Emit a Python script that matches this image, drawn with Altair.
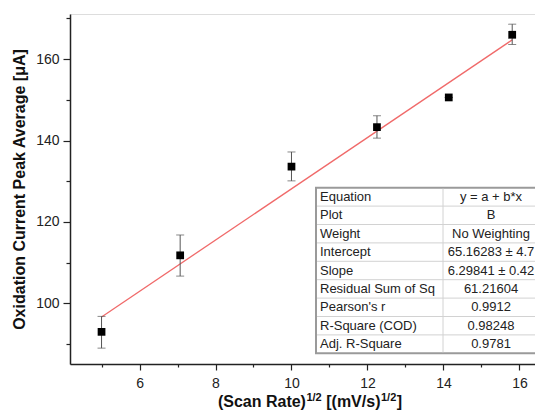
import altair as alt
import pandas as pd

# ---- data ----
x_vals = [5.0, 7.07, 10.0, 12.25, 14.14, 15.81]
y_vals = [93.0, 111.8, 133.6, 143.3, 150.6, 166.0]
y_low = [89.0, 106.7, 130.1, 140.6, 150.6, 163.6]
y_high = [96.8, 116.8, 137.2, 146.1, 150.6, 168.6]

intercept = 65.16283
slope = 6.29841
fit_x = [5.0, 15.81]

table_labels = ["Equation", "Plot", "Weight", "Intercept", "Slope",
                "Residual Sum of Sq", "Pearson's r", "R-Square (COD)", "Adj. R-Square"]
table_values = ["y = a + b*x", "B", "No Weighting", "65.16283 \u00b1 4.7",
                "6.29841 \u00b1 0.42", "61.21604", "0.9912", "0.98248", "0.9781"]

x_ticks = list(range(5, 17))
y_ticks = list(range(90, 171, 10))

# ---- layout ----
W, H = 465, 350
FONT = "Liberation Sans"
x_dom = [4.17, 16.41]
y_dom = [85.1, 171.1]

pts = pd.DataFrame({"x": x_vals, "y": y_vals, "lo": y_low, "hi": y_high})

xs = alt.Scale(domain=x_dom, nice=False, zero=False)
ys = alt.Scale(domain=y_dom, nice=False, zero=False)

x_axis = alt.Axis(values=x_ticks, title=None,
                  labelExpr="datum.value % 2 == 0 ? datum.label : ''",
                  tickSize={"condition": {"test": "datum.value % 2 == 0", "value": 6}, "value": 3},
                  labelFont=FONT, labelFontSize=14, labelColor="#222", labelPadding=6,
                  domainColor="#222", domainWidth=1.5, tickColor="#222", tickWidth=1.2,
                  grid=False, labelFlush=False)
y_axis = alt.Axis(values=y_ticks, title="Oxidation Current Peak Average [\u03bcA]",
                  labelExpr="datum.value % 20 == 0 ? datum.label : ''",
                  tickSize={"condition": {"test": "datum.value % 20 == 0", "value": 7}, "value": 4},
                  labelFont=FONT, labelFontSize=14, labelColor="#222", labelPadding=4,
                  titleFont=FONT, titleFontSize=16, titleFontWeight="bold", titleColor="#111",
                  titlePadding=8,
                  domainColor="#222", domainWidth=1.5, tickColor="#222", tickWidth=1.2,
                  grid=False, labelFlush=False)

# regression line from the reported intercept and slope
fit = alt.Chart(pd.DataFrame({"x": fit_x})).transform_calculate(
    y=f"{intercept} + {slope} * datum.x"
).mark_line(color="#f06a6a", strokeWidth=1.3).encode(
    x=alt.X("x:Q", scale=xs, axis=x_axis),
    y=alt.Y("y:Q", scale=ys, axis=y_axis),
)

err = alt.Chart(pts).mark_rule(color="#555", strokeWidth=1).encode(
    x="x:Q", y="lo:Q", y2="hi:Q")
cap_lo = alt.Chart(pts).mark_tick(color="#555", orient="horizontal", size=8, thickness=1).encode(
    x="x:Q", y="lo:Q")
cap_hi = alt.Chart(pts).mark_tick(color="#555", orient="horizontal", size=8, thickness=1).encode(
    x="x:Q", y="hi:Q")
sq = alt.Chart(pts).mark_square(color="black", size=60, opacity=1).encode(x="x:Q", y="y:Q")

# ---- fit-result table (annotation, pixel placement) ----
T_L, T_R, T_T, ROW = 246, 485, 173.7, 18.4
n = len(table_labels)
T_B = T_T + ROW * n
COL = 373
tab = pd.DataFrame({"i": list(range(n)), "lab": table_labels, "val": table_values})

box = alt.Chart(pd.DataFrame({"a": [0]})).mark_rect(
    fill="white", stroke="#9a9a9a", strokeWidth=2).encode(
    x=alt.value(T_L), x2=alt.value(T_R), y=alt.value(T_T), y2=alt.value(T_B))
row_lines = alt.Chart(pd.DataFrame({"i": list(range(1, n))})).transform_calculate(
    py=f"{T_T} + {ROW} * datum.i").mark_rule(color="#d2d2d2", strokeWidth=1).encode(
    y=alt.Y("py:Q", scale=None), x=alt.value(T_L + 1), x2=alt.value(T_R))
col_line = alt.Chart(pd.DataFrame({"a": [0]})).mark_rule(color="#d2d2d2", strokeWidth=1).encode(
    x=alt.value(COL), y=alt.value(T_T + 1), y2=alt.value(T_B - 1))
lab_txt = alt.Chart(tab).transform_calculate(
    py=f"{T_T} + {ROW} * datum.i + {ROW / 2}").mark_text(
    align="left", baseline="middle", font=FONT, fontSize=13, color="#222").encode(
    x=alt.value(T_L + 4), y=alt.Y("py:Q", scale=None), text="lab:N")
val_txt = alt.Chart(tab).transform_calculate(
    py=f"{T_T} + {ROW} * datum.i + {ROW / 2}").mark_text(
    align="center", baseline="middle", font=FONT, fontSize=13, color="#222").encode(
    x=alt.value(421), y=alt.Y("py:Q", scale=None), text="val:N")

# ---- x-axis title with superscripts ----
bold_w = {"(": 333, ")": 333, "S": 667, "c": 556, "a": 556, "n": 611, " ": 278, "R": 722,
          "t": 333, "e": 556, "[": 333, "]": 333, "m": 889, "V": 667, "/": 278, "s": 556,
          "1": 556, "2": 556}
# (text, font size, vertical shift, leading gap in px)
pieces = [("(Scan Rate)", 16, 0, 0), ("1/2", 11, -6, 0.5), ("[(mV/s)", 16, 0, 4.5),
          ("1/2", 11, -6, 0.5), ("]", 16, 0, 0.5)]
widths = [g + sum(bold_w[c] for c in t) * fs / 1000 for t, fs, _, g in pieces]
cx = 240
start = cx - sum(widths) / 2
base_y = 393
title_layers = []
pos = start
for (t, fs, dy, g), w in zip(pieces, widths):
    title_layers.append(
        alt.Chart(pd.DataFrame({"t": [t]})).mark_text(
            align="left", baseline="alphabetic", font=FONT, fontSize=fs,
            fontWeight="bold", color="#111").encode(
            x=alt.value(pos + g), y=alt.value(base_y + dy), text="t:N"))
    pos += w

chart = alt.layer(fit, box, row_lines, col_line, lab_txt, val_txt, err, cap_lo, cap_hi, sq,
                  *title_layers).properties(
    width=W, height=H,
    padding={"left": 70, "top": 14, "right": 0, "bottom": 49},
    autosize=alt.AutoSizeParams(type="none"),
).configure_view(stroke=None).configure(background="white")

chart.save("out.html", embed_options={"renderer": "svg", "actions": False})
